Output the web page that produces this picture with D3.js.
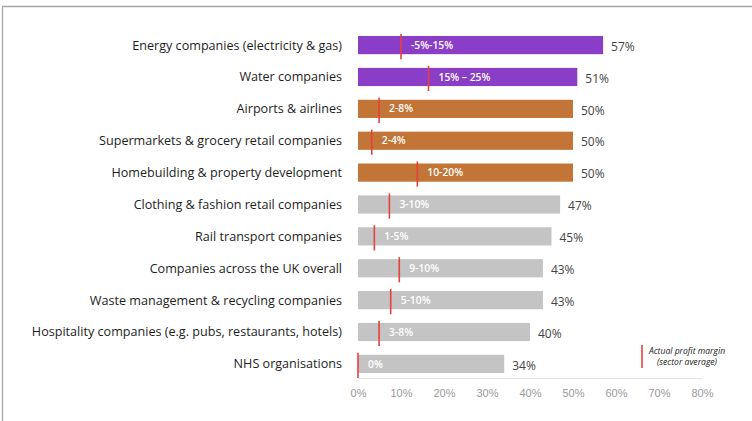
<!DOCTYPE html>
<html>
<head>
<meta charset="utf-8">
<script src="https://cdn.jsdelivr.net/npm/d3@7"></script>
<style>
  html, body { margin: 0; padding: 0; background: #fff; }
  svg { display: block; font-family: "Open Sans", "Noto Sans", sans-serif; }
</style>
</head>
<body>
<svg id="chart" width="752" height="421"></svg>
<script>
// Sector names, top to bottom
const sectors = [
  "Energy companies (electricity & gas)",
  "Water companies",
  "Airports & airlines",
  "Supermarkets & grocery retail companies",
  "Homebuilding & property development",
  "Clothing & fashion retail companies",
  "Rail transport companies",
  "Companies across the UK overall",
  "Waste management & recycling companies",
  "Hospitality companies (e.g. pubs, restaurants, hotels)",
  "NHS organisations"
];
// Share agreeing (bar length, %)
const shares = [57, 51, 50, 50, 50, 47, 45, 43, 43, 40, 34];
// Actual profit margin, sector average (%)
const margins = [10, 16.4, 4.9, 3.2, 13.8, 7.3, 3.8, 9.6, 7.6, 4.9, 0];
// Range labels shown inside the bars
const rangeLabels = ["-5%-15%", "15% – 25%", "2-8%", "2-4%", "10-20%", "3-10%", "1-5%", "9-10%", "5-10%", "3-8%", "0%"];
// Colour group for each bar
const groups = ["utility", "utility", "consumer", "consumer", "consumer", "other", "other", "other", "other", "other", "other"];
const xTicks = [0, 10, 20, 30, 40, 50, 60, 70, 80];

const groupColor = { utility: "#8a3dc6", consumer: "#c27536", other: "#c4c4c4" };
const markerColor = "#e8403c";

const svg = d3.select("#chart");

// Frame lines (top and left edge)
svg.append("path")
  .attr("d", "M2.5,421 V6.5 H752")
  .attr("fill", "none")
  .attr("stroke", "#a6a6a6")
  .attr("stroke-width", 1.3);

const x = d3.scaleLinear().domain([0, 80]).range([358, 702]);
const y = d3.scaleBand().domain(sectors).range([29, 380]).paddingInner(0.43).paddingOuter(0.22);

const rows = sectors.map((s, i) => ({
  name: s, share: shares[i], margin: margins[i], range: rangeLabels[i], group: groups[i]
}));

// Baseline under the bars
svg.append("line")
  .attr("x1", x(0)).attr("x2", x(80))
  .attr("y1", 378.5).attr("y2", 378.5)
  .attr("stroke", "#e6e6e6").attr("stroke-width", 1);

// X axis
const xAxis = svg.append("g")
  .attr("transform", "translate(0,389)")
  .call(d3.axisBottom(x).tickValues(xTicks).tickFormat(d => d + "%").tickSize(0).tickPadding(0));
xAxis.select(".domain").remove();
xAxis.selectAll("text")
  .attr("fill", "#9a9a9a")
  .attr("font-size", 11)
  .attr("dy", "0.71em");

// Category labels
svg.append("g").selectAll("text")
  .data(rows).join("text")
  .attr("x", 342)
  .attr("y", d => y(d.name) + y.bandwidth() / 2)
  .attr("dy", "0.35em")
  .attr("text-anchor", "end")
  .attr("fill", "#1e1e1e")
  .attr("font-size", 12.6)
  .text(d => d.name);

// Bars
svg.append("g").selectAll("rect")
  .data(rows).join("rect")
  .attr("x", x(0))
  .attr("y", d => y(d.name))
  .attr("width", d => x(d.share) - x(0))
  .attr("height", y.bandwidth())
  .attr("fill", d => groupColor[d.group]);

// Value labels
svg.append("g").selectAll("text")
  .data(rows).join("text")
  .attr("x", d => x(d.share) + 8)
  .attr("y", d => y(d.name) + y.bandwidth() / 2 + 1.5)
  .attr("dy", "0.35em")
  .attr("fill", "#444")
  .attr("font-size", 12)
  .text(d => d.share + "%");

// Profit-margin markers
svg.append("g").selectAll("line")
  .data(rows).join("line")
  .attr("x1", d => x(d.margin)).attr("x2", d => x(d.margin))
  .attr("y1", d => y(d.name) - 2)
  .attr("y2", d => y(d.name) + y.bandwidth() + 5)
  .attr("stroke", markerColor)
  .attr("stroke-width", 1.6);

// Range labels inside bars
svg.append("g").selectAll("text")
  .data(rows).join("text")
  .attr("x", d => x(d.margin) + 10)
  .attr("y", d => y(d.name) + y.bandwidth() / 2)
  .attr("dy", "0.35em")
  .attr("fill", "#fff")
  .attr("font-size", 10.3)
  .attr("font-weight", 600)
  .text(d => d.range);

// Legend
const legend = svg.append("g");
legend.append("line")
  .attr("x1", 642).attr("x2", 642)
  .attr("y1", 345).attr("y2", 368)
  .attr("stroke", markerColor).attr("stroke-width", 1.6);
legend.append("text")
  .attr("x", 687).attr("y", 351)
  .attr("dy", "0.35em")
  .attr("text-anchor", "middle")
  .attr("font-size", 8.6)
  .attr("font-style", "italic")
  .attr("fill", "#222")
  .text("Actual profit margin");
legend.append("text")
  .attr("x", 687).attr("y", 361.5)
  .attr("dy", "0.35em")
  .attr("text-anchor", "middle")
  .attr("font-size", 8.6)
  .attr("font-style", "italic")
  .attr("fill", "#222")
  .text("(sector average)");
</script>
</body>
</html>
